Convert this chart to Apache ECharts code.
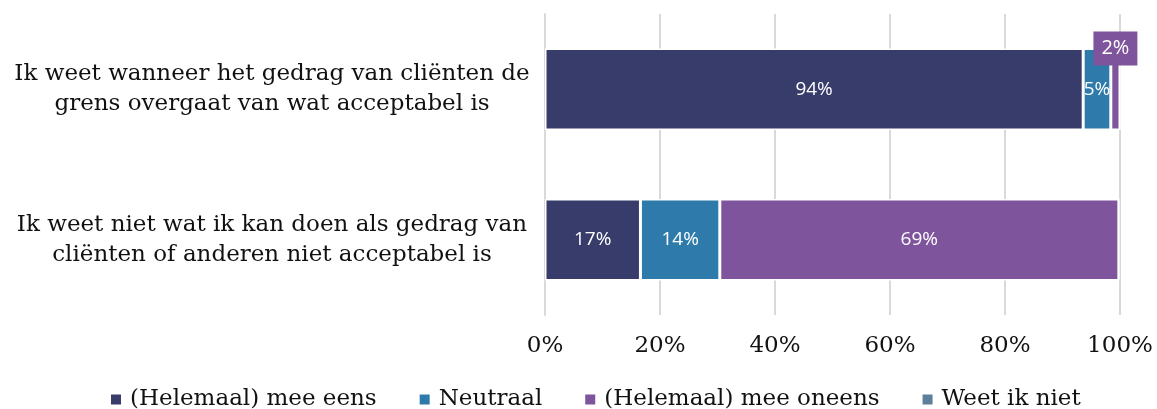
<!DOCTYPE html>
<html>
<head>
<meta charset="utf-8">
<script src="https://cdn.jsdelivr.net/npm/echarts@6/dist/echarts.min.js"></script>
<style>
  html, body { margin: 0; padding: 0; background: #fff; }
  #chart { width: 1157px; height: 409px; }
</style>
</head>
<body>
<div id="chart"></div>
<script>
var categories = [
  'Ik weet wanneer het gedrag van cliënten de\ngrens overgaat van wat acceptabel is',
  'Ik weet niet wat ik kan doen als gedrag van\ncliënten of anderen niet acceptabel is'
];
var seriesNames = ['(Helemaal) mee eens', 'Neutraal', '(Helemaal) mee oneens', 'Weet ik niet'];
var eensValues = [93.6, 16.6];
var neutraalValues = [4.8, 13.8];
var oneensValues = [1.6, 69.4];
var weetNietValues = [0, 0];
var xTicks = [0, 20, 40, 60, 80, 100];

var colors = ['#383c6a', '#2e7bab', '#7e549c', '#5d7f99'];
var serif = '"DejaVu Serif", serif';
var sans = '"Open Sans", sans-serif';

var myChart = echarts.init(document.getElementById('chart'));

function pct(p) {
  return Math.round(p.value) + '%';
}

function makeSeries(name, values, idx) {
  return {
    name: name,
    type: 'bar',
    stack: 'total',
    barWidth: '54%',
    itemStyle: { color: colors[idx], borderColor: '#fff', borderWidth: 1.5 },
    label: {
      show: true,
      position: 'inside',
      color: '#fff',
      fontFamily: sans,
      fontSize: 19,
      formatter: function (p) { return p.value > 0 ? pct(p) : ''; }
    },
    data: values.slice()
  };
}

var series = [
  makeSeries(seriesNames[0], eensValues, 0),
  makeSeries(seriesNames[1], neutraalValues, 1),
  makeSeries(seriesNames[2], oneensValues, 2),
  makeSeries(seriesNames[3], weetNietValues, 3)
];

// small slice: label in a box sitting on top of the bar
series[2].data[0] = {
  value: oneensValues[0],
  label: {
    position: 'top',
    distance: 0,
    offset: [0, 17],
    backgroundColor: colors[2],
    padding: [7, 8, 7, 8],
    fontSize: 20
  }
};

var option = {
  animation: false,
  color: colors,
  grid: { left: 545, right: 37, top: 14, bottom: 94 },
  legend: {
    top: 383,
    left: 104,
    itemWidth: 12,
    itemHeight: 12,
    itemGap: 41,
    icon: 'rect',
    textStyle: { fontFamily: serif, fontSize: 23, color: '#111', padding: [0, 0, 0, 3] },
    data: seriesNames
  },
  xAxis: {
    type: 'value',
    min: xTicks[0],
    max: xTicks[xTicks.length - 1],
    interval: 20,
    axisLine: { show: false },
    axisTick: { show: false },
    splitLine: { lineStyle: { color: '#d9d9d9', width: 2 } },
    axisLabel: {
      margin: 20,
      fontFamily: serif,
      fontSize: 23,
      color: '#111',
      formatter: '{value}%'
    }
  },
  yAxis: {
    type: 'category',
    inverse: true,
    data: categories,
    axisLine: { show: true, lineStyle: { color: '#d9d9d9', width: 2 } },
    axisTick: { show: false },
    axisLabel: {
      margin: 273,
      align: 'center',
      fontFamily: serif,
      fontSize: 23,
      lineHeight: 30,
      color: '#111'
    }
  },
  series: series
};

myChart.setOption(option);
</script>
</body>
</html>
